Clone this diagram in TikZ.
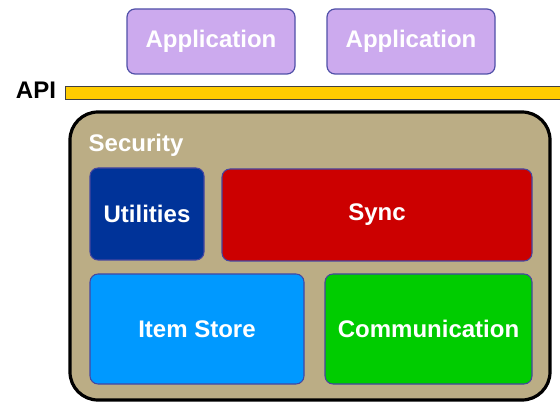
\documentclass[tikz,border=0pt]{standalone}
\usepackage{fontspec}
\setmainfont{Liberation Sans}
\usetikzlibrary{positioning}

\definecolor{appviolet}{HTML}{CCAAEE}
\definecolor{appedge}{HTML}{5050A8}
\definecolor{apiyellow}{HTML}{FFCC00}
\definecolor{securitytan}{HTML}{BBAD85}
\definecolor{utilblue}{HTML}{003399}
\definecolor{syncred}{HTML}{CC0000}
\definecolor{storeblue}{HTML}{0099FF}
\definecolor{commgreen}{HTML}{00CC00}
\definecolor{moduleedge}{HTML}{4646A0}

\begin{document}
\begin{tikzpicture}[x=0.75pt,y=-0.75pt,
    big label/.style={font=\fontsize{18}{20}\selectfont\bfseries},
    app box/.style={big label,draw=appedge,fill=appviolet,text=white,
        rounded corners=6pt,line width=0.9pt,
        minimum width=126pt,minimum height=48.75pt,inner sep=0pt},
    module box/.style={big label,draw=moduleedge,text=white,
        rounded corners=6pt,line width=0.8pt,inner sep=0pt},
    security box/.style={draw=black,fill=securitytan,line width=2.4pt,
        rounded corners=21pt,minimum width=360pt,minimum height=216pt,
        inner sep=0pt}
]
    \useasboundingbox (0,0) rectangle (560,402);

    \node[app box] (app-left) at (211,41.5) {Application};
    \node[app box] (app-right) at (411,41.5) {Application};

    \node[big label] (api-label) at (36,90) {API};
    \draw[draw=black!75,fill=apiyellow,line width=0.7pt]
        (65,86) rectangle (566,99);

    \node[security box] (security) at (310,256) {};
    \node[big label,text=white,anchor=base west] (security-label)
        at (84,152) {Security};

    \node[module box,fill=utilblue,minimum width=85.5pt,minimum height=69pt]
        (utilities) at (147,214) {Utilities};
    \node[module box,fill=syncred,minimum width=232.5pt,minimum height=69pt]
        (sync) at (377,215) {Sync};
    \node[module box,fill=storeblue,minimum width=160.5pt,minimum height=82.5pt]
        (item-store) at (197,329) {Item Store};
    \node[module box,fill=commgreen,minimum width=155.25pt,minimum height=82.5pt]
        (communication) at (428.5,329) {Communication};

\end{tikzpicture}
\end{document}
